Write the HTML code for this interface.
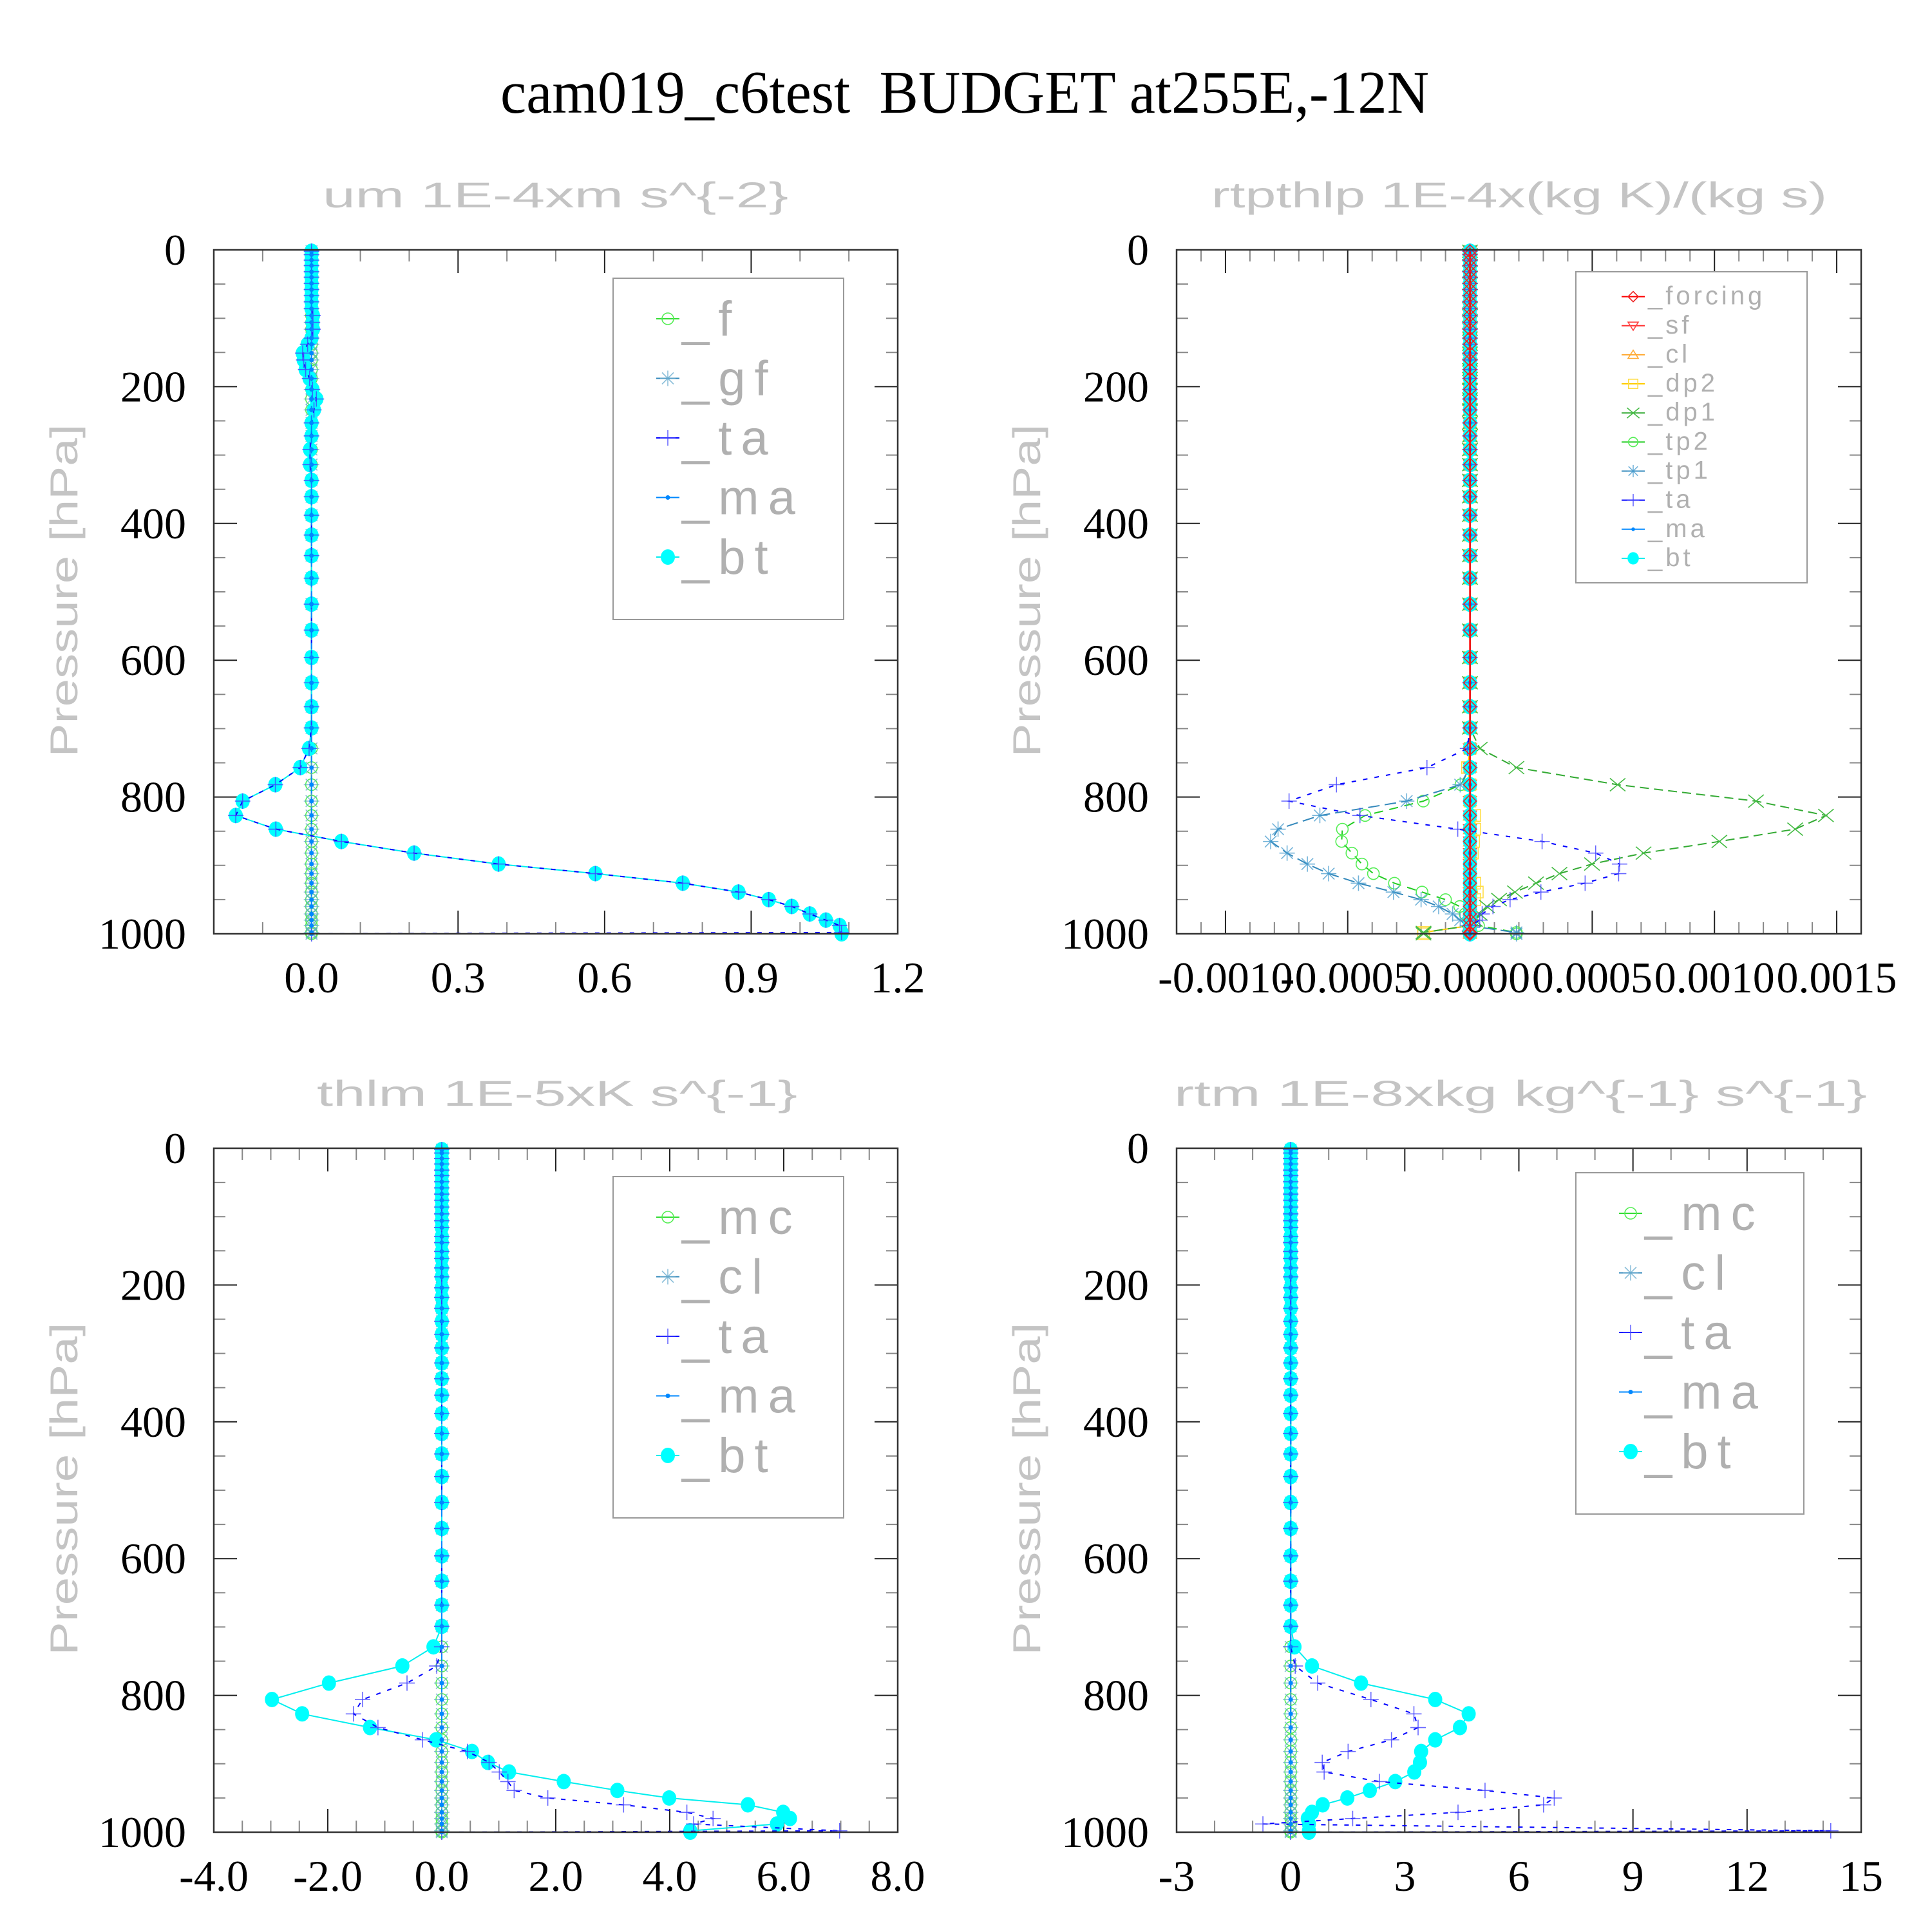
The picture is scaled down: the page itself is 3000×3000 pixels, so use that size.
<!DOCTYPE html>
<html><head><meta charset="utf-8">
<style>
html,body{margin:0;padding:0;background:#fff;}
svg{display:block;}
</style></head>
<body>
<svg id="chart" xmlns="http://www.w3.org/2000/svg" width="3000" height="3000" viewBox="0 0 3000 3000">
<rect x="0" y="0" width="3000" height="3000" fill="#fff"/>
<text x="777" y="175" font-family="Liberation Serif, serif" font-size="94" textLength="1442" lengthAdjust="spacingAndGlyphs" fill="#000" xml:space="preserve">cam019_c6test  BUDGET at255E,-12N</text>
</svg>
<script>
// ---------- shared vertical coordinate (hPa) ----------
const levels = [2,7,15,23,32,40,49,58,67,76, 86,96,106,116,129,138,151,161,175,188, 204,218,234,253,272,292,314,337,361,388, 417,447,480,518,556,596,633,668,699,729, 757,782,806,827,847,865,882,898,912,926, 939,950,960,971,980,988,998,1000];
const yTickValues = [0,200,400,600,800,1000];
const yTickLabels = ['0','200','400','600','800','1000'];

// ---------- panel 1: um ----------
const p1TickValues = [0,0.3,0.6,0.9,1.2];
const p1TickLabels = ['0.0','0.3','0.6','0.9','1.2'];
const um_f  = [0,0,0,0,0,0,0,0,0,0, 0,0,0,0,0,0,0,0,0,0, 0,0,0,0,0,0,0,0,0,0, 0,0,0,0,0,0,0,0,0,0, 0,0,0,0,0,0,0,0,0,0, 0,0,0,0,0,0,0,0];
const um_gf = [0,0,0,0,0,0,0,0,0,0, 0,0,0,0,0,0,0,0,0,0, 0,0,0,0,0,0,0,0,0,0, 0,0,0,0,0,0,0,0,0,0, 0,0,0,0,0,0,0,0,0,0, 0,0,0,0,0,0,0,0];
const um_ta = [0,0,0,0,0,0,0,0,0,0, 0,0.003,0.002,0.003,0,-0.008,-0.018,-0.016,-0.012,-0.004, 0.002,0.01,0.005,0,0,-0.003,-0.003,0,0,0, 0,0,0,0,0,0,0,0,0,-0.005, -0.023,-0.074,-0.141,-0.155,-0.073,0.061,0.210,0.383,0.581,0.760, 0.874,0.936,0.983,1.020,1.053,1.081,1.085,0];
const um_ma = [0,0,0,0,0,0,0,0,0,0, 0,0,0,0,0,0,0,0,0,0, 0,0,0,0,0,0,0,0,0,0, 0,0,0,0,0,0,0,0,0,0, 0,0,0,0,0,0,0,0,0,0, 0,0,0,0,0,0,0,0];
const um_bt = [0,0,0,0,0,0,0,0,0,0, 0,0.003,0.002,0.003,0,-0.008,-0.018,-0.016,-0.012,-0.004, 0.002,0.01,0.005,0,0,-0.003,-0.003,0,0,0, 0,0,0,0,0,0,0,0,0,-0.005, -0.023,-0.074,-0.141,-0.155,-0.073,0.061,0.210,0.383,0.581,0.760, 0.874,0.936,0.983,1.020,1.053,1.081,1.085,1.085];

// ---------- panel 2: rtpthlp ----------
const p2TickValues = [-0.001,-0.0005,0,0.0005,0.001,0.0015];
const p2TickLabels = ['-0.0010','-0.0005','0.0000','0.0005','0.0010','0.0015'];
const rt_forcing = [0,0,0,0,0,0,0,0,0,0, 0,0,0,0,0,0,0,0,0,0, 0,0,0,0,0,0,0,0,0,0, 0,0,0,0,0,0,0,0,0,0, 0,0,0,0,0,0,0,0,0,0, 0,0,0,0,0,0,0,0];
const rt_sf  = [0,0,0,0,0,0,0,0,0,0, 0,0,0,0,0,0,0,0,0,0, 0,0,0,0,0,0,0,0,0,0, 0,0,0,0,0,0,0,0,0,0, 0,0,0,0,0,0,0,0,0,0, 0,0,0,0,0,0,0,0];
const rt_cl  = [0,0,0,0,0,0,0,0,0,0, 0,0,0,0,0,0,0,0,0,0, 0,0,0,0,0,0,0,0,0,0, 0,0,0,0,0,0,0,0,0,0, 0,0,0,0,0,0,0,0,0,0, 0,0,0,0,0,0,0,0];
const rt_dp2 = [0,0,0,0,0,0,0,0,0,0, 0,0,0,0,0,0,0,0,0,0, 0,0,0,0,0,0,0,0,0,0, 0,0,0,0,0,0,0,0,0,0, -0.00001,0,0,0.00002,0.00002,0.000015,0.00001,0,0,0.00002, 0.00003,0.00002,0,0,0,0,-0.00019,-0.00019];
const rt_dp1 = [0,0,0,0,0,0,0,0,0,0, 0,0,0,0,0,0,0,0,0,0, 0,0,0,0,0,0,0,0,0,0, 0,0,0,0,0,0,0,0,0,0.00004, 0.00019,0.000604,0.00117,0.001456,0.00133,0.00102,0.00071,0.000499,0.000366,0.00027, 0.000184,0.000119,0.000069,0.00004,0.00002,0,-0.00019,-0.00019];
const rt_tp2 = [0,0,0,0,0,0,0,0,0,0, 0,0,0,0,0,0,0,0,0,0, 0,0,0,0,0,0,0,0,0,0, 0,0,0,0,0,0,0,0,0,0, 0,-0.000037,-0.000191,-0.000429,-0.000522,-0.000525,-0.000483,-0.000442,-0.000395,-0.000309, -0.000196,-0.0001,-0.000042,-0.00002,0,0.000035,0.00019,0.00019];
const rt_tp1 = [0,0,0,0,0,0,0,0,0,0, 0,0,0,0,0,0,0,0,0,0, 0,0,0,0,0,0,0,0,0,0, 0,0,0,0,0,0,0,0,0,0, 0,-0.00004,-0.000259,-0.000614,-0.000785,-0.000815,-0.000748,-0.000665,-0.000578,-0.000456, -0.000313,-0.0002,-0.000128,-0.000071,-0.00004,-0.00001,0.00019,0.00019];
const rt_ta  = [0,0,0,0,0,0,0,0,0,0, 0,0,0,0,0,0,0,0,0,0, 0,0,0,0,0,0,0,0,0,0, 0,0,0,0,0,0,0,0,0,-0.00001, -0.000176,-0.000546,-0.00074,-0.00045,-0.00005,0.000295,0.000514,0.000612,0.000608,0.000471, 0.00029,0.000164,0.000094,0.00005,0.00004,0,0,0];
const rt_ma  = [0,0,0,0,0,0,0,0,0,0, 0,0,0,0,0,0,0,0,0,0, 0,0,0,0,0,0,0,0,0,0, 0,0,0,0,0,0,0,0,0,0, 0,0,0,0,0,0,0,0,0,0, 0,0,0,0,0,0,0,0];
const rt_bt  = [0,0,0,0,0,0,0,0,0,0, 0,0,0,0,0,0,0,0,0,0, 0,0,0,0,0,0,0,0,0,0, 0,0,0,0,0,0,0,0,0,0, 0,0,0,0,0,0,0,0,0,0, 0,0,0,0,0,0,0,0];

// ---------- panel 3: thlm ----------
const p3TickValues = [-4,-2,0,2,4,6,8];
const p3TickLabels = ['-4.0','-2.0','0.0','2.0','4.0','6.0','8.0'];
const th_mc = [0,0,0,0,0,0,0,0,0,0, 0,0,0,0,0,0,0,0,0,0, 0,0,0,0,0,0,0,0,0,0, 0,0,0,0,0,0,0,0,0,0, 0,0,0,0,0,0,0,0,0,0, 0,0,0,0,0,0,0,0];
const th_cl = [0,0,0,0,0,0,0,0,0,0, 0,0,0,0,0,0,0,0,0,0, 0,0,0,0,0,0,0,0,0,0, 0,0,0,0,0,0,0,0,0,0, 0,0,0,0,0,0,0,0,0,0, 0,0,0,0,0,0,0,0];
const th_ta = [0,0,0,0,0,0,0,0,0,0, 0,0,0,0,0,0,0,0,0,0, 0,0,0,0,0,0,0,0,0,0, 0,0,0,0,0,0,0,0,0,0, -0.088,-0.61,-1.39,-1.55,-1.12,-0.34,0.45,0.83,1.01,1.16, 1.27,1.86,3.19,4.30,4.76,4.42,6.98,0];
const th_ma = [0,0,0,0,0,0,0,0,0,0, 0,0,0,0,0,0,0,0,0,0, 0,0,0,0,0,0,0,0,0,0, 0,0,0,0,0,0,0,0,0,0, 0,0,0,0,0,0,0,0,0,0, 0,0,0,0,0,0,0,0];
const th_bt = [0,0,0,0,0,0,0,0,0,0, 0,0,0,0,0,0,0,0,0,0, 0,0,0,0,0,0,0,0,0,0, 0,0,0,0,0,0,0,0,0,-0.146, -0.692,-1.98,-2.98,-2.45,-1.26,-0.10,0.53,0.81,1.18,2.14, 3.08,3.99,5.37,5.99,6.11,5.88,4.36,4.36];

// ---------- panel 4: rtm ----------
const p4TickValues = [-3,0,3,6,9,12,15];
const p4TickLabels = ['-3','0','3','6','9','12','15'];
const rm_mc = [0,0,0,0,0,0,0,0,0,0, 0,0,0,0,0,0,0,0,0,0, 0,0,0,0,0,0,0,0,0,0, 0,0,0,0,0,0,0,0,0,0, 0,0,0,0,0,0,0,0,0,0, 0,0,0,0,0,0,0,0];
const rm_cl = [0,0,0,0,0,0,0,0,0,0, 0,0,0,0,0,0,0,0,0,0, 0,0,0,0,0,0,0,0,0,0, 0,0,0,0,0,0,0,0,0,0, 0,0,0,0,0,0,0,0,0,0, 0,0,0,0,0,0,0,0];
const rm_ta = [0,0,0,0,0,0,0,0,0,0, 0,0,0,0,0,0,0,0,0,0, 0,0,0,0,0,0,0,0,0,0, 0,0,0,0,0,0,0,0,0,0, 0.12,0.71,2.11,3.24,3.35,2.65,1.51,0.83,0.88,2.33, 5.11,6.93,6.65,4.40,1.63,-0.73,14.2,0];
const rm_ma = [0,0,0,0,0,0,0,0,0,0, 0,0,0,0,0,0,0,0,0,0, 0,0,0,0,0,0,0,0,0,0, 0,0,0,0,0,0,0,0,0,0, 0,0,0,0,0,0,0,0,0,0, 0,0,0,0,0,0,0,0];
const rm_bt = [0,0,0,0,0,0,0,0,0,0, 0,0,0,0,0,0,0,0,0,0, 0,0,0,0,0,0,0,0,0,0, 0,0,0,0,0,0,0,0,0,0.10, 0.56,1.85,3.80,4.68,4.45,3.80,3.43,3.40,3.25,2.75, 2.08,1.49,0.84,0.56,0.45,0.48,0.48,0.48];

const NS = 'http://www.w3.org/2000/svg';
const svg = document.getElementById('chart');
function mk(tag, attrs, parent) {
  const e = document.createElementNS(NS, tag);
  for (const k in attrs) e.setAttribute(k, attrs[k]);
  parent.appendChild(e);
  return e;
}

const STY = {
  f:   {c:'#55ee55', lc:'#33dd33', m:'circle', dash:''},
  mc:  {c:'#55ee55', lc:'#33dd33', m:'circle', dash:''},
  gf:  {c:'#66aacc', lc:'#3388bb', m:'star', dash:'18,8'},
  cl:  {c:'#66aacc', lc:'#3388bb', m:'star', dash:'18,8'},
  tp1: {c:'#4499cc', lc:'#3388bb', m:'star', dash:'18,8'},
  tp2: {c:'#55ee55', lc:'#22cc22', m:'circle', dash:'14,10'},
  ta:  {c:'#4444ff', lc:'#0000ff', m:'plus', dash:'7,11'},
  ma:  {c:'#0088ff', lc:'#0088ff', m:'dot', dash:'10,6'},
  bt:  {c:'#00ffff', lc:'#00eeee', m:'fill', dash:''},
  forcing: {c:'#ee2222', lc:'#ff0000', m:'diamond', dash:''},
  sf:  {c:'#ff4444', lc:'#ff3333', m:'tridown', dash:''},
  cl2: {c:'#ffaa33', lc:'#ffaa33', m:'triup', dash:''},
  dp2: {c:'#ffdd44', lc:'#ffcc00', m:'square', dash:''},
  dp1: {c:'#44bb44', lc:'#33aa33', m:'x', dash:'14,8'}
};

function marker(g, type, cx, cy, color, s) {
  const sw = 1.6;
  if (type === 'circle') mk('circle', {cx:cx, cy:cy, r:9*s, fill:'none', stroke:color, 'stroke-width':sw}, g);
  else if (type === 'fill') mk('ellipse', {cx:cx, cy:cy, rx:11*s, ry:12*s, fill:color}, g);
  else if (type === 'dot') mk('circle', {cx:cx, cy:cy, r:3.5*s, fill:color}, g);
  else if (type === 'plus') {
    mk('line', {x1:cx-12*s, y1:cy, x2:cx+12*s, y2:cy, stroke:color, 'stroke-width':sw, 'stroke-opacity':0.8}, g);
    mk('line', {x1:cx, y1:cy-12*s, x2:cx, y2:cy+12*s, stroke:color, 'stroke-width':sw, 'stroke-opacity':0.8}, g);
  } else if (type === 'x') {
    mk('line', {x1:cx-12*s, y1:cy-10*s, x2:cx+12*s, y2:cy+10*s, stroke:color, 'stroke-width':sw}, g);
    mk('line', {x1:cx-12*s, y1:cy+10*s, x2:cx+12*s, y2:cy-10*s, stroke:color, 'stroke-width':sw}, g);
  } else if (type === 'star') {
    const o = 0.75;
    mk('line', {x1:cx-12*s, y1:cy, x2:cx+12*s, y2:cy, stroke:color, 'stroke-width':sw, 'stroke-opacity':o}, g);
    mk('line', {x1:cx, y1:cy-12*s, x2:cx, y2:cy+12*s, stroke:color, 'stroke-width':sw, 'stroke-opacity':o}, g);
    mk('line', {x1:cx-9*s, y1:cy-9*s, x2:cx+9*s, y2:cy+9*s, stroke:color, 'stroke-width':sw, 'stroke-opacity':o}, g);
    mk('line', {x1:cx-9*s, y1:cy+9*s, x2:cx+9*s, y2:cy-9*s, stroke:color, 'stroke-width':sw, 'stroke-opacity':o}, g);
  } else if (type === 'diamond') {
    mk('polygon', {points:[cx,cy-10*s,cx+10*s,cy,cx,cy+10*s,cx-10*s,cy].join(' '), fill:'none', stroke:color, 'stroke-width':sw}, g);
  } else if (type === 'tridown') {
    mk('polygon', {points:[cx-10*s,cy-7*s,cx+10*s,cy-7*s,cx,cy+9*s].join(' '), fill:'none', stroke:color, 'stroke-width':sw}, g);
  } else if (type === 'triup') {
    mk('polygon', {points:[cx-10*s,cy+7*s,cx+10*s,cy+7*s,cx,cy-9*s].join(' '), fill:'none', stroke:color, 'stroke-width':sw}, g);
  } else if (type === 'square') {
    mk('rect', {x:cx-9*s, y:cy-9*s, width:18*s, height:18*s, fill:'none', stroke:color, 'stroke-width':sw}, g);
  }
}

function drawPanel(P) {
  const g = mk('g', {}, svg);
  
  
  const xs = v => P.x0 + (v - P.xmin) / (P.xmax - P.xmin) * (P.x1 - P.x0);
  const ys = p => P.y0 + p / 1000 * (P.y1 - P.y0);

  const t = mk('text', {x:P.tx, y:P.y0 - 66, 'font-family':'Liberation Sans, sans-serif', 'font-size':56, fill:'#c4c4c4', textLength:P.tw, lengthAdjust:'spacingAndGlyphs'}, g);
  t.setAttribute('xml:space', 'preserve');
  t.textContent = P.title;
  
  

  const ycen = (P.y0 + P.y1) / 2 - 2;
  const ya = mk('text', {x:P.x0 - 212, y:ycen, 'font-family':'Liberation Sans, sans-serif', 'font-size':60, fill:'#c4c4c4', 'text-anchor':'middle', textLength:517, lengthAdjust:'spacingAndGlyphs', transform:'rotate(-90 ' + (P.x0 - 212) + ' ' + ycen + ')'}, g);
  ya.textContent = 'Pressure [hPa]';
  
  

  const tg = mk('g', {}, g);
  
  
  const nMinor = Math.round((P.xmax - P.xmin) / P.minor);
  for (let i = 0; i <= nMinor; i++) {
    const v = P.xmin + i * P.minor;
    const major = Math.abs(v / P.major - Math.round(v / P.major)) < 1e-6;
    const x = xs(v);
    const len = major ? 36 : 18;
    const col = major ? '#222' : '#888';
    mk('line', {x1:x, y1:P.y1, x2:x, y2:P.y1 - len, stroke:col, 'stroke-width':2}, tg);
    mk('line', {x1:x, y1:P.y0, x2:x, y2:P.y0 + len, stroke:col, 'stroke-width':2}, tg);
  }
  for (let p = 0; p <= 1000; p += 50) {
    const major = p % 200 === 0;
    const y = ys(p);
    const len = major ? 36 : 18;
    const col = major ? '#222' : '#888';
    mk('line', {x1:P.x0, y1:y, x2:P.x0 + len, y2:y, stroke:col, 'stroke-width':2}, tg);
    mk('line', {x1:P.x1, y1:y, x2:P.x1 - len, y2:y, stroke:col, 'stroke-width':2}, tg);
  }
  P.tickValues.forEach((v, i) => {
    const tl = mk('text', {x:xs(v), y:P.y1 + 91, 'font-family':'Liberation Serif, serif', 'font-size':68, 'text-anchor':'middle', fill:'#000'}, g);
    tl.textContent = P.tickLabels[i];
    
    
  });
  yTickValues.forEach((p, i) => {
    const tl = mk('text', {x:P.x0 - 43, y:ys(p) + 23, 'font-family':'Liberation Serif, serif', 'font-size':68, 'text-anchor':'end', fill:'#000'}, g);
    tl.textContent = yTickLabels[i];
    
    
  });

  P.drawOrder.forEach(idx => {
    const s = P.series[idx];
    const st = STY[s.style];
    const sg = mk('g', {}, g);
    
    
    const pts = s.data.map((v, i) => xs(v).toFixed(1) + ',' + ys(levels[i]).toFixed(1)).join(' ');
    const pl = mk('polyline', {points:pts, fill:'none', stroke:st.lc, 'stroke-width':s.style === 'forcing' ? 2.5 : 2, 'stroke-dasharray':st.dash}, sg);
    
    
    s.data.forEach((v, i) => {
      marker(sg, st.m, xs(v), ys(levels[i]), st.c, 1);
    });
  });

  const fr = mk('rect', {x:P.x0, y:P.y0, width:P.x1 - P.x0, height:P.y1 - P.y0, fill:'none', stroke:'#333', 'stroke-width':2.5}, g);
  
  

  const L = P.legend;
  const lg = mk('g', {}, g);
  
  
  mk('rect', {x:L.x, y:L.y, width:L.w, height:L.h, fill:'#fff', stroke:'#999', 'stroke-width':2}, lg);
  P.series.forEach((s, i) => {
    const st = STY[s.style];
    const my = L.y + L.first + i * L.step;
    const eg = mk('g', {}, lg);
    
    
    mk('line', {x1:L.x + L.mx - 18, y1:my, x2:L.x + L.mx + 18, y2:my, stroke:st.lc, 'stroke-width':2}, eg);
    marker(eg, st.m, L.x + L.mx, my, st.c, L.ms);
    const tx = mk('text', {x:L.x + L.tx, y:my + L.bo, 'font-family':'Liberation Sans, sans-serif', 'font-size':L.fs, 'letter-spacing':L.ls, fill:'#b0b0b0'}, eg);
    tx.textContent = s.label;
  });
}

const big = {first:63, step:92.5, mx:85, tx:107, bo:26, fs:76, ls:14, ms:1};
const small = {first:38.6, step:45.15, mx:89, tx:112, bo:12, fs:40, ls:5, ms:0.8};

drawPanel({
  name:'panel-um', title:'um  1E-4xm s^{-2}', tx:501, tw:723,
  x0:332, x1:1394, y0:388, y1:1450, xmin:-0.2, xmax:1.2, major:0.3, minor:0.1,
  tickValues:p1TickValues, tickLabels:p1TickLabels,
  series:[
    {label:'_f', style:'f', data:um_f},
    {label:'_gf', style:'gf', data:um_gf},
    {label:'_ta', style:'ta', data:um_ta},
    {label:'_ma', style:'ma', data:um_ma},
    {label:'_bt', style:'bt', data:um_bt}],
  drawOrder:[0,1,4,2,3],
  legend:Object.assign({x:952, y:432, w:358, h:530}, big)
});
drawPanel({
  name:'panel-rtpthlp', title:'rtpthlp  1E-4x(kg K)/(kg s)', tx:1881, tw:956,
  x0:1827, x1:2890, y0:388, y1:1450, xmin:-0.0012, xmax:0.0016, major:0.0005, minor:0.0001,
  tickValues:p2TickValues, tickLabels:p2TickLabels,
  series:[
    {label:'_forcing', style:'forcing', data:rt_forcing},
    {label:'_sf', style:'sf', data:rt_sf},
    {label:'_cl', style:'cl2', data:rt_cl},
    {label:'_dp2', style:'dp2', data:rt_dp2},
    {label:'_dp1', style:'dp1', data:rt_dp1},
    {label:'_tp2', style:'tp2', data:rt_tp2},
    {label:'_tp1', style:'tp1', data:rt_tp1},
    {label:'_ta', style:'ta', data:rt_ta},
    {label:'_ma', style:'ma', data:rt_ma},
    {label:'_bt', style:'bt', data:rt_bt}],
  drawOrder:[1,2,3,4,5,6,9,7,8,0],
  legend:Object.assign({x:2447, y:422, w:359, h:483}, small)
});
drawPanel({
  name:'panel-thlm', title:'thlm  1E-5xK s^{-1}', tx:492, tw:746,
  x0:332, x1:1394, y0:1783, y1:2845, xmin:-4, xmax:8, major:2, minor:0.5,
  tickValues:p3TickValues, tickLabels:p3TickLabels,
  series:[
    {label:'_mc', style:'mc', data:th_mc},
    {label:'_cl', style:'cl', data:th_cl},
    {label:'_ta', style:'ta', data:th_ta},
    {label:'_ma', style:'ma', data:th_ma},
    {label:'_bt', style:'bt', data:th_bt}],
  drawOrder:[0,1,4,2,3],
  legend:Object.assign({x:952, y:1827, w:358, h:530}, big)
});
drawPanel({
  name:'panel-rtm', title:'rtm  1E-8xkg kg^{-1} s^{-1}', tx:1823, tw:1076,
  x0:1827, x1:2890, y0:1783, y1:2845, xmin:-3, xmax:15, major:3, minor:1,
  tickValues:p4TickValues, tickLabels:p4TickLabels,
  series:[
    {label:'_mc', style:'mc', data:rm_mc},
    {label:'_cl', style:'cl', data:rm_cl},
    {label:'_ta', style:'ta', data:rm_ta},
    {label:'_ma', style:'ma', data:rm_ma},
    {label:'_bt', style:'bt', data:rm_bt}],
  drawOrder:[0,1,4,2,3],
  legend:Object.assign({x:2447, y:1821, w:354, h:530}, big)
});
</script>
</body></html>
